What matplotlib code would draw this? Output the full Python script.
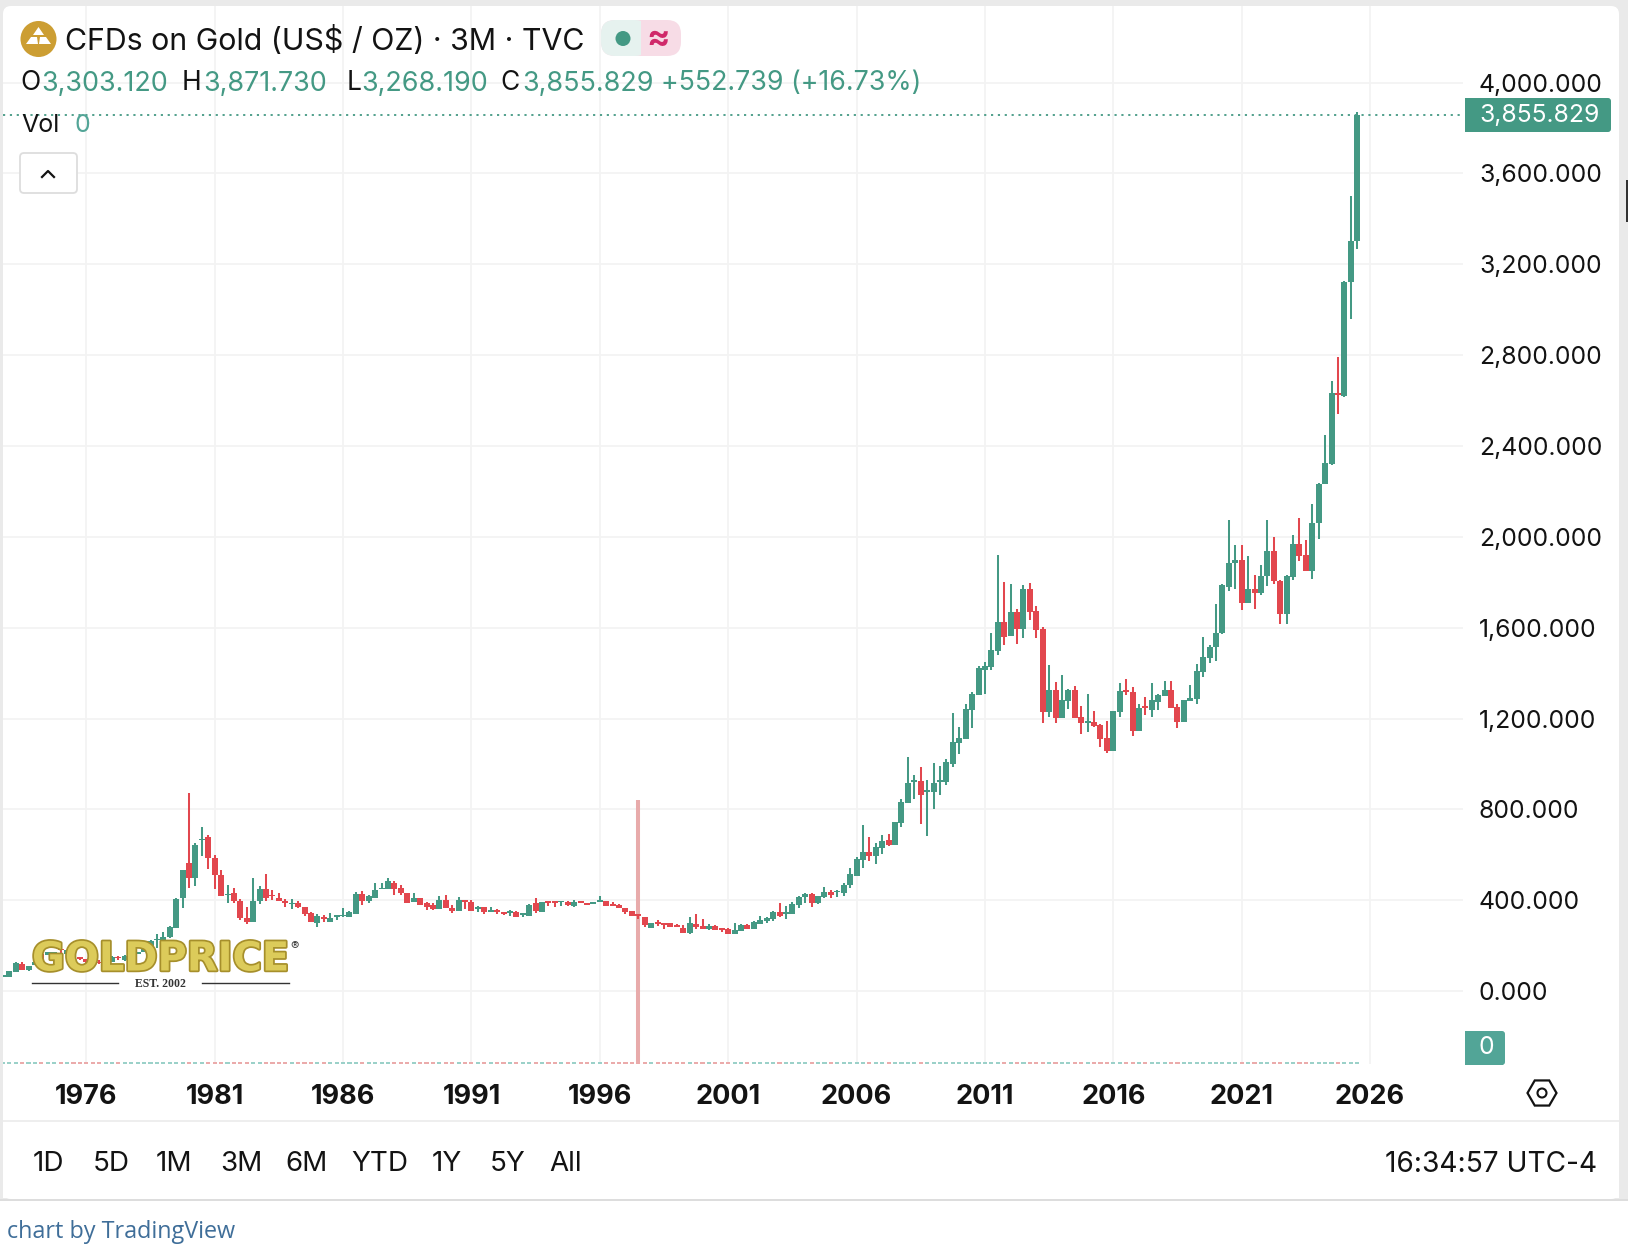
import matplotlib
matplotlib.use("Agg")
import matplotlib.pyplot as plt
import matplotlib.patheffects as pe
from matplotlib.patches import Rectangle, FancyBboxPatch, Circle, RegularPolygon, Polygon
import numpy as np

plt.rcParams['font.family'] = ['Inter', 'DejaVu Sans']

## quarterly candles, 1972 Q4 to 2025 Q3
opens = [63,63,85,118,92,113,165,158,161,187,
         165,168,148,140,136,129,124,130,151,136,
         151,165,173,180,227,219,237,278,408,562,
         496,664,680,584,509,423,434,395,323,303,
         395,448,421,412,395,382,386,369,342,298,
         325,303,328,329,325,338,426,395,412,448,
         448,478,456,434,391,409,387,378,360,400,
         365,352,400,391,363,369,347,356,347,346,
         347,337,330,387,347,396,396,391,391,374,
         396,387,384,391,396,382,378,365,352,338,
         325,277,303,299,299,290,277,255,294,286,
         273,286,277,273,251,264,290,273,297,308,
         316,347,341,338,378,413,426,387,413,435,
         435,431,466,505,576,611,594,629,664,642,
         739,827,921,924,877,876,921,920,999,1091,
         1109,1237,1303,1413,1426,1497,1624,1563,1668,1593,
         1770,1673,1593,1228,1325,1202,1276,1325,1206,1180,
         1184,1171,1113,1056,1228,1325,1316,1144,1254,1237,
         1272,1298,1325,1250,1184,1276,1285,1404,1466,1514,
         1575,1781,1885,1899,1709,1771,1754,1826,1938,1807,
         1660,1822,1970,1921,1848,2060,2231,2321,2634,2622,3120,3303.12]
highs = [70,88,127,129,111,130,172,173,173,190,
         180,173,151,142,136,136,139,154,154,158,
         173,174,197,224,251,258,285,409,531,873,
         654,724,689,597,531,465,456,404,369,496,
         461,514,443,430,404,404,395,369,347,338,
         334,342,333,364,351,435,440,421,478,478,
         500,483,465,434,431,409,391,387,418,422,
         378,413,400,400,374,369,369,360,347,356,
         352,343,382,409,391,396,396,396,396,400,
         396,387,391,418,396,391,382,365,352,338,
         325,299,312,299,299,294,290,325,338,316,
         294,290,277,277,299,294,294,308,330,325,
         352,387,374,391,418,431,431,418,457,444,
         444,475,541,589,730,677,651,686,691,744,
         845,1030,951,986,928,1003,990,1021,1224,1162,
         1263,1316,1431,1448,1576,1919,1800,1792,1682,1787,
         1796,1695,1602,1435,1360,1391,1329,1342,1254,1307,
         1232,1175,1188,1232,1356,1373,1338,1263,1294,1356,
         1307,1364,1364,1263,1281,1347,1439,1558,1523,1704,
         1791,2076,1966,1962,1917,1834,1877,2072,2001,1811,
         1832,2009,2084,1987,2146,2239,2449,2686,2793,3126,3501,3871.73]
lows = [63,63,85,92,88,113,136,158,161,168,
        165,129,136,123,130,119,119,127,136,133,
        151,162,170,173,189,216,233,278,366,452,
        461,594,536,451,418,386,390,311,294,303,
        382,395,400,395,369,360,364,329,303,281,
        306,303,311,325,325,338,378,386,412,448,
        448,421,425,386,391,378,356,356,360,365,
        343,352,360,352,347,338,347,338,334,330,
        325,325,330,343,347,374,369,374,374,369,
        387,378,384,391,374,374,365,338,330,316,
        281,277,286,273,281,281,255,251,273,273,
        268,268,259,251,251,264,273,273,294,299,
        308,325,316,338,365,387,369,382,409,409,
        413,418,453,505,541,571,559,603,638,642,
        721,827,845,735,682,801,862,906,986,1043,
        1109,1157,1303,1307,1413,1479,1523,1563,1527,1554,
        1633,1554,1180,1206,1180,1202,1241,1202,1131,1140,
        1162,1074,1047,1056,1206,1303,1122,1144,1215,1206,
        1237,1298,1246,1157,1184,1276,1263,1382,1444,1453,
        1571,1762,1769,1679,1709,1683,1746,1783,1791,1618,
        1618,1809,1895,1848,1813,1989,2231,2317,2539,2616,2957,3268.19]
closes = [70,88,123,95,110,130,140,173,173,180,
          180,136,140,126,132,124,136,151,145,154,
          168,173,195,219,231,238,281,405,531,496,
          645,670,585,509,418,429,395,320,306,395,
          448,408,417,395,386,386,369,338,303,329,
          317,320,333,333,347,426,395,417,443,456,
          483,448,430,386,409,378,369,360,400,365,
          352,400,391,352,369,347,356,347,338,352,
          325,343,378,352,391,390,390,396,378,391,
          387,378,391,400,374,374,365,347,330,330,
          290,299,294,293,281,281,255,299,281,273,
          286,268,268,251,268,290,273,303,312,321,
          347,330,347,382,413,426,387,418,435,422,
          440,466,514,580,611,593,633,660,642,744,
          832,915,928,862,884,915,928,1008,1096,1113,
          1241,1307,1422,1431,1501,1624,1558,1668,1593,1770,
          1668,1589,1228,1325,1202,1281,1325,1202,1180,1188,
          1166,1109,1056,1232,1320,1316,1144,1246,1247,1281,
          1303,1325,1246,1184,1281,1290,1408,1470,1514,1576,
          1787,1885,1899,1709,1771,1754,1828,1938,1805,1660,
          1826,1970,1917,1848,2062,2233,2325,2634,2624,3122,3303,3855.829]
price_ticks = [0,400,800,1200,1600,2000,2400,2800,3200,3600,4000]
year_ticks = [1976,1981,1986,1991,1996,2001,2006,2011,2016,2021,2026]
range_buttons = ["1D","5D","1M","3M","6M","YTD","1Y","5Y","All"]
range_x = [33,93,156,220,285,351,432,490,549]

green = "#449984"
red = "#E2474E"
dark = "#131313"
grid = "#F3F3F3"
panel = "#EAEAEA"

W, H = 1628, 1252
fig = plt.figure(figsize=(W/100, H/100), dpi=100, facecolor="white")

##background card
bg = fig.add_axes([0,0,1,1], zorder=0)
bg.set_xlim(0,W); bg.set_ylim(H,0); bg.axis("off")
bg.add_patch(Rectangle((0,0), W, 1200, color=panel, lw=0))
bg.add_patch(FancyBboxPatch((3+8,6+8), 1616-16, 1193-16, boxstyle="round,pad=8,rounding_size=8", color="white", lw=0))
bg.add_patch(Rectangle((3,1100), 1616, 98, color="white", lw=0))
bg.add_patch(Rectangle((3,60), 1616, 1100, color="white", lw=0))
bg.add_patch(Rectangle((0,1199), W, 2, color="#DDDDDD", lw=0))
bg.add_patch(Rectangle((3,1120), 1616, 2, color="#EEEEEE", lw=0))

##price pane
ax = fig.add_axes([3/W, 1-1064/H, 1460/W, 1058/H], zorder=1)
ax.patch.set_alpha(0)
ax.set_xlim(1972.755, 2029.62)
ax.set_ylim(-321, 4337)
for s in ax.spines.values():
    s.set_visible(False)

ax.set_xticks(year_ticks)
ax.set_xticklabels([str(y) for y in year_ticks], fontsize=19.5, fontweight="bold", color=dark)
ax.set_yticks(price_ticks)
ax.set_yticklabels(["{:,.3f}".format(p) for p in price_ticks], fontsize=17.8, color=dark, ha="left")
ax.yaxis.tick_right()
ax.tick_params(axis="x", length=0, pad=14.5)
ax.tick_params(axis="y", length=0, pad=11.5)
ax.grid(True, color=grid, lw=1.3, zorder=0)
ax.set_axisbelow(True)

years = 1972.75 + np.arange(len(closes))*0.25
o = np.array(opens, dtype=float)
c = np.array(closes, dtype=float)
up = c >= o
colors = [green if u else red for u in up]

ax.vlines(1997.49, -321, 841, color="#E8ABAB", lw=2.9, zorder=1)
ax.vlines(years, lows, highs, color=colors, lw=1.45, zorder=2)
ax.bar(years, np.abs(c-o), bottom=np.minimum(o,c), width=0.234, color=colors, lw=0, zorder=3)

##volume strip, all zero on this feed
volumes = np.zeros(len(closes))
vol_colors = ["#99D0C8" if u else "#EBA9A9" for u in up]
ax.hlines(-316+volumes, years-0.08, years+0.08, color=vol_colors, lw=1.4, zorder=2)

##last price line
ax.axhline(closes[-1], color=green, lw=1.3, ls=(0,(1.2,2.6)), zorder=4)

##ui on top
ui = fig.add_axes([0,0,1,1], zorder=2)
ui.set_xlim(0,W); ui.set_ylim(H,0); ui.axis("off"); ui.patch.set_alpha(0)

def label(x, y, s, size, color=dark, ha="left", **kw):
    ui.text(x, y+2.5, s, fontsize=size, color=color, ha=ha, va="center", **kw)

##header
ui.add_patch(Circle((38.5,39), 18, color="#CC9E33", lw=0))
ui.add_patch(Polygon([(38.5,27),(44,35),(33,35)], color="white", lw=0))
ui.add_patch(Polygon([(31,37),(37,37),(38,44),(26,44)], color="white", lw=0))
ui.add_patch(Polygon([(40,37),(46,37),(51,44),(39,44)], color="white", lw=0))
label(65, 38.5, "CFDs on Gold (US$ / OZ) · 3M · TVC", 21.85)

ui.add_patch(FancyBboxPatch((601+14,20+14), 66-28+14, 8, boxstyle="round,pad=14,rounding_size=14", color="#F7DCE6", lw=0))
ui.add_patch(FancyBboxPatch((601+14,20+14), 20, 8, boxstyle="round,pad=14,rounding_size=14", color="#E6F2EF", lw=0))
ui.add_patch(Rectangle((641,20), 8, 36, color="#F7DCE6", lw=0))
ui.add_patch(Circle((623,38.5), 7.5, color=green, lw=0))
label(658, 36.5, "≈", 25, color="#D0296A", ha="center", fontweight="bold")

for x, s in [(20,"O"),(182,"H"),(347,"L"),(500,"C")]:
    label(x, 81, s, 19)
for x, s in [(41,"3,303.120"),(203,"3,871.730"),(361,"3,268.190"),(522,"3,855.829")]:
    label(x, 81, s, 19.4, color=green)
label(661, 81, "+552.739 (+16.73%)", 19.3, color=green)
label(21, 122.5, "Vol", 18)
label(75, 122.5, "0", 18, color="#53A597")

ui.add_patch(FancyBboxPatch((23,156), 51, 34, boxstyle="round,pad=3,rounding_size=4", fc="white", ec="#DDDDDD", lw=1.3))
ui.plot([42,48,54], [177,171,177], color=dark, lw=1.6)

##axis badges
ui.add_patch(FancyBboxPatch((1468,101), 140, 28, boxstyle="round,pad=3,rounding_size=3", color=green, lw=0))
ui.add_patch(Rectangle((1465,98), 8, 34, color=green, lw=0))
label(1479, 113, "3,855.829", 17.8, color="white")
ui.add_patch(FancyBboxPatch((1468,1034), 34, 28, boxstyle="round,pad=3,rounding_size=3", color="#52A597", lw=0))
ui.add_patch(Rectangle((1465,1031), 8, 34, color="#52A597", lw=0))
ui.add_patch(Rectangle((1465,1057), 38, 8, color="#52A597", lw=0))
label(1486, 1044.5, "0", 17.8, color="white", ha="center")

ui.add_patch(RegularPolygon((1542,1093), 6, radius=14.5, orientation=np.pi/6, fc="white", ec=dark, lw=1.6))
ui.add_patch(Circle((1542,1093), 4.5, fc="white", ec=dark, lw=1.5))

##range row
for x, s in zip(range_x, range_buttons):
    label(x, 1161.5, s, 20)
label(1597, 1161.5, "16:34:57 UTC-4", 20.2, ha="right")
label(7, 1229.5, "chart by TradingView", 16.8, color="#3F6E99", family="Open Sans")

##logo
label(32, 957, "GOLDPRICE", 28.8, color="#DCCB5A", family="DejaVu Sans", fontweight="bold",
      path_effects=[pe.withStroke(linewidth=2.5, foreground="#A68F2B")], zorder=6)
label(290, 944, "®", 9, color="#444444", zorder=6)
ui.plot([32,118], [983,983], color="#333333", lw=1)
ui.plot([202,289], [983,983], color="#333333", lw=1)
label(160.5, 981.5, "EST. 2002", 8.5, color="#333333", ha="center", family="Liberation Serif", fontweight="bold")

##scrap of next element at the right edge
ui.add_patch(Rectangle((1626,180), 2, 42, color="#333333", lw=0))

fig.savefig("out.png", dpi=100)
